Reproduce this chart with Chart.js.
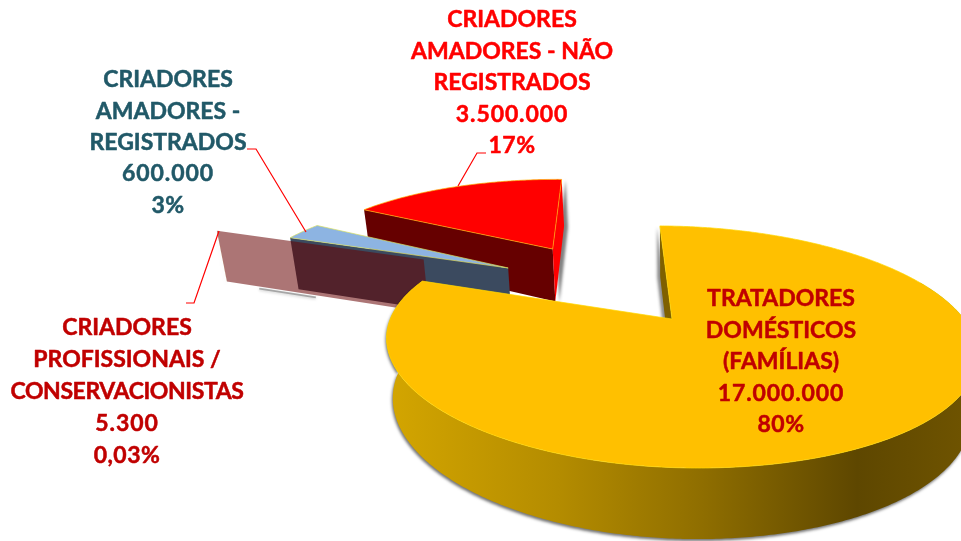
<!DOCTYPE html>
<html lang="pt">
<head>
<meta charset="utf-8">
<title>Criadores</title>
<script src="https://cdn.jsdelivr.net/npm/chart.js@4"></script>
<style>
html,body{margin:0;padding:0;background:#fff}
canvas{display:block}
</style>
</head>
<body>
<canvas id="c" width="961" height="541"></canvas>
<script>
const categories = ["TRATADORES DOMÉSTICOS (FAMÍLIAS)", "CRIADORES PROFISSIONAIS / CONSERVACIONISTAS", "CRIADORES AMADORES - REGISTRADOS", "CRIADORES AMADORES - NÃO REGISTRADOS"];
const values = [17000000, 5300, 600000, 3500000];
const valueLabels = ["17.000.000", "5.300", "600.000", "3.500.000"];
const percentLabels = ["80%", "0,03%", "3%", "17%"];
const categoryLines = [
  ["TRATADORES", "DOMÉSTICOS", "(FAMÍLIAS)"],
  ["CRIADORES", "PROFISSIONAIS /", "CONSERVACIONISTAS"],
  ["CRIADORES", "AMADORES -", "REGISTRADOS"],
  ["CRIADORES", "AMADORES - NÃO", "REGISTRADOS"]
];

/* styling only */
const topColors = ["#FFC000", "#C00000", "#8DB4E2", "#FF0000"];
const startWall = ["#7F6000", "rgba(102,0,0,0.54)", "#3B4A5F", "#660000"];
const endWall = [null, null, null, "#FF0000"];
const edgeColors = ["#FFD800", null, "#D8E060", "#FFB000"];
const textColors = ["#C00000", "#C00000", "#215968", "#FF0000"];
const view = {cx: 672, cy: 319, R: 292, Ry: 114.6, k: 0.231, shear: 20, dz: 0.0225, da: 5.4, db: 53};
const explode = [{d: 0, a: 0}, {d: 1.098, a: 212.5}, {d: 0.772, a: 220}, {d: 0.829, a: 239}];
const radiusScale = [1, 0.97, 0.98, 0.985];
const leftSquash = [0.965, 1, 1, 1];
const labelBox = [
  {x: 781, y: 299, lh: 31.5},
  {x: 127, y: 328, lh: 32},
  {x: 168, y: 80, lh: 31.3},
  {x: 512, y: 20, lh: 31.5}
];
const leaders = [
  [[186, 303], [194, 303], [219, 231]],
  [[247, 149], [256, 149], [306, 232]],
  [[486, 153], [477, 153], [458, 186]]
];

function P(u, v, low) {
  const w = 1 - view.k * v;
  const q = v / w;
  const s = low ? 1 / (1 + view.dz) : 1;
  return {
    x: view.cx + (view.R * u / w + view.shear * q) * s,
    y: view.cy + view.Ry * q * s + (low ? view.da + view.db / w : 0)
  };
}
function poly(ctx, pts) {
  ctx.beginPath();
  pts.forEach((p, i) => i ? ctx.lineTo(p.x, p.y) : ctx.moveTo(p.x, p.y));
  ctx.closePath();
}
function shadow(ctx, color, blur, ox, oy) {
  ctx.shadowColor = color; ctx.shadowBlur = blur; ctx.shadowOffsetX = ox; ctx.shadowOffsetY = oy;
}

const pie3d = {
  id: 'pie3d',
  beforeDatasetDraw(chart, args) {
    const ctx = chart.ctx;
    const arcs = chart.getDatasetMeta(args.index).data;
    for (let i = arcs.length - 1; i >= 0; i--) {
      const arc = arcs[i];
      const a0 = arc.startAngle, a1 = arc.endAngle;
      const r = radiusScale[i];
      const dir = explode[i].a * Math.PI / 180;
      const ex = explode[i].d * Math.cos(dir), ey = explode[i].d * Math.sin(dir);
      const at = (t, low) => {
        const c = Math.cos(t);
        return P(ex + r * c * (c < 0 ? leftSquash[i] : 1), ey + r * Math.sin(t), low);
      };
      const apex = low => P(ex, ey, low);

      ctx.save();
      if (i === 1) {
        /* soft shadow under the thin slice wall */
        const A = at(a0, true), B = apex(true);
        const mix = f => ({x: A.x + (B.x - A.x) * f, y: A.y + (B.y - A.y) * f + 2});
        ctx.save();
        shadow(ctx, 'rgba(0,0,0,.4)', 3, 0, 1);
        ctx.strokeStyle = 'rgba(110,110,110,.55)';
        ctx.lineWidth = 2;
        ctx.beginPath();
        const s0 = mix(0.16), s1 = mix(0.44);
        ctx.moveTo(s0.x, s0.y); ctx.lineTo(s1.x, s1.y);
        ctx.stroke();
        ctx.restore();
      }
      /* radial walls */
      ctx.save();
      if (i === 0) shadow(ctx, 'rgba(0,0,0,.45)', 3, -3, 1);
      ctx.fillStyle = startWall[i];
      poly(ctx, [apex(false), at(a0, false), at(a0, true), apex(true)]);
      ctx.fill();
      ctx.restore();
      if (endWall[i]) {
        ctx.save();
        shadow(ctx, 'rgba(0,0,0,.5)', 3, 4, 1);
        ctx.fillStyle = endWall[i];
        poly(ctx, [apex(false), at(a1, false), at(a1, true), apex(true)]);
        ctx.fill();
        ctx.restore();
      }
      /* outer wall: only the part that faces the viewer */
      const lo = Math.max(a0, -20 * Math.PI / 180), hi = Math.min(a1, 201 * Math.PI / 180);
      if (hi > lo) {
        const ring = [], back = [];
        const n = Math.ceil((hi - lo) / 0.01);
        for (let j = 0; j <= n; j++) {
          const t = lo + (hi - lo) * j / n;
          ring.push(at(t, false));
          back.push(at(t, true));
        }
        const g = ctx.createLinearGradient(385, 0, 961, 0);
        g.addColorStop(0, '#D4A600');
        g.addColorStop(0.3, '#B48C00');
        g.addColorStop(0.55, '#8F6E00');
        g.addColorStop(0.82, '#5E4700');
        g.addColorStop(1, '#6E5300');
        ctx.save();
        shadow(ctx, 'rgba(0,0,0,.55)', 3, -1, 2);
        ctx.fillStyle = g;
        poly(ctx, ring.concat(back.reverse()));
        ctx.fill();
        ctx.restore();
      }
      /* top face */
      const face = [apex(false)];
      const m = Math.max(1, Math.ceil((a1 - a0) / 0.01));
      for (let j = 0; j <= m; j++) face.push(at(a0 + (a1 - a0) * j / m, false));
      if (edgeColors[i]) {
        ctx.fillStyle = topColors[i];
        poly(ctx, face);
        ctx.fill();
        ctx.strokeStyle = edgeColors[i];
        ctx.lineWidth = 0.7;
        ctx.stroke();
      }
      ctx.restore();
    }
    return false;
  },
  afterDatasetsDraw(chart) {
    const ctx = chart.ctx;
    ctx.save();
    ctx.strokeStyle = '#FF0000';
    ctx.lineWidth = 1.2;
    leaders.forEach(l => {
      ctx.beginPath();
      l.forEach((p, i) => i ? ctx.lineTo(p[0], p[1]) : ctx.moveTo(p[0], p[1]));
      ctx.stroke();
    });
    ctx.font = 'bold 23px Lato';
    ctx.textAlign = 'center';
    ctx.textBaseline = 'middle';
    ctx.lineJoin = 'round';
    ctx.lineWidth = 0.5;
    categories.forEach((_, i) => {
      const nameCount = categoryLines[i].length;
      const lines = categoryLines[i].concat([valueLabels[i], percentLabels[i]]);
      ctx.fillStyle = textColors[i];
      ctx.strokeStyle = textColors[i];
      lines.forEach((s, j) => {
        ctx.letterSpacing = j === nameCount ? '0.9px' : j > nameCount ? '0.5px' : (s.length > 15 ? '-0.4px' : '0px');
        const y = labelBox[i].y + j * labelBox[i].lh;
        ctx.fillText(s, labelBox[i].x, y);
        ctx.strokeText(s, labelBox[i].x, y);
      });
    });
    ctx.restore();
  }
};

new Chart(document.getElementById('c'), {
  type: 'pie',
  plugins: [pie3d],
  data: {
    labels: categories,
    datasets: [{data: values, backgroundColor: topColors, borderWidth: 0}]
  },
  options: {
    responsive: false,
    animation: false,
    rotation: 1,
    events: [],
    plugins: {legend: {display: false}, tooltip: {enabled: false}, title: {display: false}}
  }
});
</script>
</body>
</html>
